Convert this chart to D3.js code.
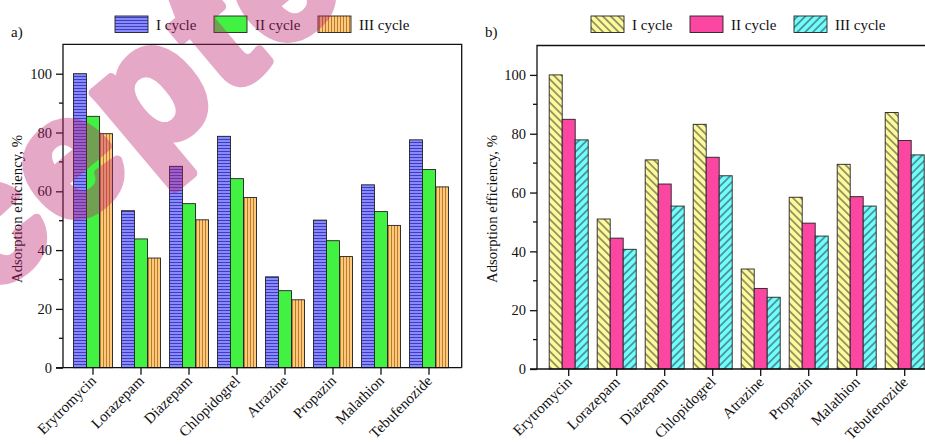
<!DOCTYPE html>
<html>
<head>
<meta charset="utf-8">
<script src="https://cdn.jsdelivr.net/npm/d3@7"></script>
<style>
  body { margin: 0; background: #fff; }
  svg text.lbl { font-family: "Liberation Serif", "Times New Roman", serif; fill: #111; }
</style>
</head>
<body>
<script>
// drugs on the x axis
const categories = ["Erytromycin", "Lorazepam", "Diazepam", "Chlopidogrel",
                    "Atrazine", "Propazin", "Malathion", "Tebufenozide"];
const cycleNames = ["I cycle", "II cycle", "III cycle"];
const yTicks = [0, 20, 40, 60, 80, 100];

// panel a)
const a_cycle1 = [100, 53.4, 68.5, 78.7, 30.9, 50.2, 62.2, 77.5];
const a_cycle2 = [85.5, 43.8, 55.8, 64.3, 26.2, 43.2, 53.1, 67.4];
const a_cycle3 = [79.6, 37.3, 50.3, 57.9, 23.1, 37.8, 48.4, 61.5];

// panel b)
const b_cycle1 = [100, 51.0, 71.1, 83.2, 34.0, 58.4, 69.6, 87.2];
const b_cycle2 = [84.9, 44.5, 62.9, 72.0, 27.4, 49.6, 58.6, 77.7];
const b_cycle3 = [77.9, 40.7, 55.4, 65.7, 24.4, 45.2, 55.4, 72.8];

const width = 925, height = 444;

const svg = d3.select("body").append("svg")
  .attr("width", width)
  .attr("height", height);

svg.append("rect").attr("width", width).attr("height", height).attr("fill", "#fff");

const defs = svg.append("defs");

// stripe patterns
function stripes(id, bg, fg, size, angle, lineW) {
  const p = defs.append("pattern")
    .attr("id", id)
    .attr("patternUnits", "userSpaceOnUse")
    .attr("width", size)
    .attr("height", size)
    .attr("patternTransform", `rotate(${angle})`);
  p.append("rect").attr("width", size).attr("height", size).attr("fill", bg);
  p.append("line")
    .attr("x1", size / 2).attr("x2", size / 2)
    .attr("y1", 0).attr("y2", size)
    .attr("stroke", fg).attr("stroke-width", lineW);
}
stripes("hblue", "#8a8aff", "#3d3db8", 3, 90, 1);
stripes("vorange", "#ffc97c", "#b87a2c", 3, 0, 1);
stripes("dyellow", "#fdfa9c", "#2a2a2a", 5.5, -45, 0.9);
stripes("dcyan", "#70fdfd", "#2a2a2a", 5.5, 45, 0.9);

const panels = [
  { label: "a)", labelX: 11, x0: 63, x1: 461.7, top: 44.3, bottom: 367.7,
    bandStart: 69, series: [a_cycle1, a_cycle2, a_cycle3],
    fills: ["url(#hblue)", "#42f242", "url(#vorange)"],
    legendX: [115, 214, 318], titleX: 22 },
  { label: "b)", labelX: 485, x0: 537, x1: 937, top: 45.5, bottom: 369,
    bandStart: 544.7, series: [b_cycle1, b_cycle2, b_cycle3],
    fills: ["url(#dyellow)", "#fb46a2", "url(#dcyan)"],
    legendX: [591, 690, 794], titleX: 497 }
];

panels.forEach(p => {
  const g = svg.append("g");

  const y = d3.scaleLinear().domain([0, 110]).range([p.bottom, p.top]);
  const x = d3.scaleBand().domain(categories)
    .range([p.bandStart, p.bandStart + 48 * categories.length]);
  const xSub = d3.scaleBand().domain(d3.range(3)).range([4.5, 43.5]);

  // bars
  p.series.forEach((vals, s) => {
    g.selectAll(null)
      .data(vals)
      .join("rect")
        .attr("x", (d, i) => x(categories[i]) + xSub(s))
        .attr("y", d => y(d))
        .attr("width", xSub.bandwidth())
        .attr("height", d => y(0) - y(d))
        .attr("fill", p.fills[s])
        .attr("stroke", "#222")
        .attr("stroke-width", 0.9);
  });

  // frame (left, top, right lines)
  g.append("path")
    .attr("d", `M${p.x0},${p.bottom}V${p.top}H${p.x1}V${p.bottom}`)
    .attr("fill", "none")
    .attr("stroke", "#111")
    .attr("stroke-width", 1.3);

  // y axis
  const yAxis = g.append("g")
    .attr("transform", `translate(${p.x0},0)`)
    .call(d3.axisLeft(y).tickValues(yTicks).tickSize(7).tickPadding(4));
  yAxis.select(".domain").remove();
  yAxis.selectAll("line").attr("stroke", "#111").attr("stroke-width", 1.3);
  yAxis.selectAll("text").attr("class", "lbl").attr("font-size", 14.5);
  g.selectAll(null)
    .data([10, 30, 50, 70, 90])
    .join("line")
      .attr("x1", p.x0 - 4).attr("x2", p.x0)
      .attr("y1", d => y(d)).attr("y2", d => y(d))
      .attr("stroke", "#111").attr("stroke-width", 1.3);

  // x axis
  const xAxis = g.append("g")
    .attr("transform", `translate(0,${p.bottom})`)
    .call(d3.axisBottom(x).tickSize(7).tickFormat(""));
  xAxis.select(".domain").remove();
  xAxis.selectAll("line").attr("stroke", "#111").attr("stroke-width", 1.3);
  g.append("line")
    .attr("x1", p.x0 - 7).attr("x2", p.x1)
    .attr("y1", p.bottom).attr("y2", p.bottom)
    .attr("stroke", "#111").attr("stroke-width", 1.3);

  g.selectAll(".cat")
    .data(categories)
    .join("text")
      .attr("class", "cat lbl")
      .attr("transform", d => `translate(${x(d) + x.bandwidth() / 2 + 4},${p.bottom + 14}) rotate(-45)`)
      .attr("text-anchor", "end")
      .attr("font-size", 15)
      .text(d => d);

  // axis title
  g.append("text")
    .attr("class", "lbl")
    .attr("transform", `translate(${p.titleX},209) rotate(-90)`)
    .attr("text-anchor", "middle")
    .attr("font-size", 14.8)
    .text("Adsorption efficiency, %");

  // panel label
  g.append("text")
    .attr("class", "lbl")
    .attr("x", p.labelX).attr("y", 36.5)
    .attr("font-size", 15)
    .text(p.label);

  // legend
  const leg = g.selectAll(".leg")
    .data(cycleNames)
    .join("g")
      .attr("class", "leg")
      .attr("transform", (d, i) => `translate(${p.legendX[i]},16)`);
  leg.append("rect")
    .attr("width", 33).attr("height", 16.5)
    .attr("fill", (d, i) => p.fills[i])
    .attr("stroke", "#222").attr("stroke-width", 0.9);
  leg.append("text")
    .attr("class", "lbl")
    .attr("x", 41).attr("y", 13.5)
    .attr("font-size", 15)
    .text(d => d);
});

// pink "Accepted" watermark over the left panel (stroke thickens the glyphs)
svg.append("g")
  .attr("opacity", 0.38)
  .append("text")
    .attr("transform", "translate(-190,448) rotate(-40)")
    .style("font-family", "'Liberation Sans', Arial, sans-serif")
    .style("font-weight", "bold")
    .style("font-size", "170px")
    .style("letter-spacing", "7px")
    .style("fill", "rgb(190,30,110)")
    .style("stroke", "rgb(190,30,110)")
    .style("stroke-width", 10)
    .style("stroke-linejoin", "round")
    .text("Accepted");
</script>
</body>
</html>
